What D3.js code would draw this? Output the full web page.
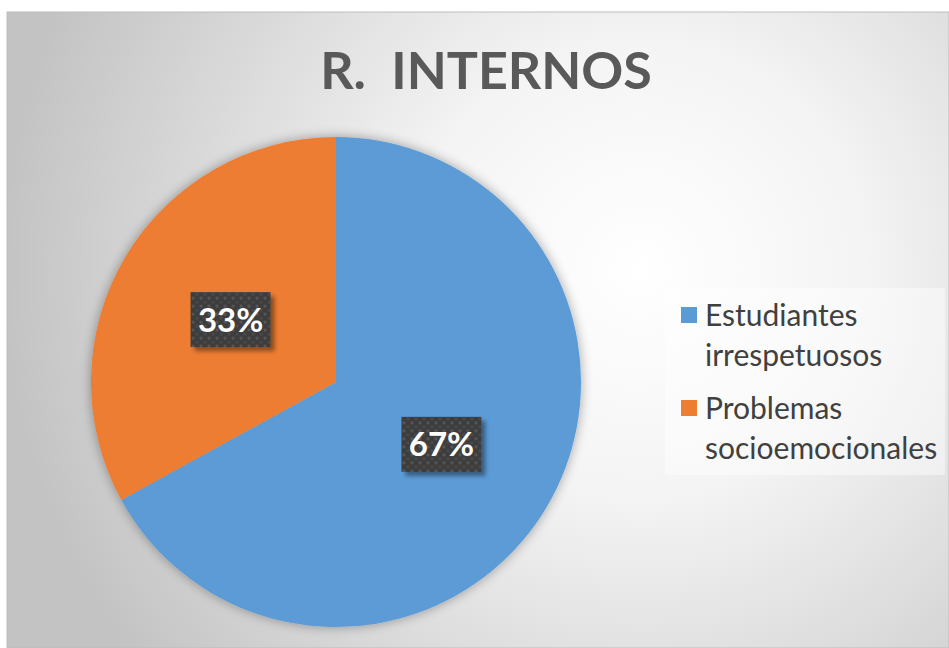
<!DOCTYPE html>
<html>
<head>
<meta charset="utf-8">
<script src="https://cdn.jsdelivr.net/npm/d3@7"></script>
<style>
  body { margin: 0; background: #fff; }
  svg { display: block; }
</style>
</head>
<body>
<svg id="chart" width="949" height="648"></svg>
<script>
// chart data
const title = "R.  INTERNOS";
const categories = ["Estudiantes irrespetuosos", "Problemas socioemocionales"];
const legendLines = [["Estudiantes", "irrespetuosos"], ["Problemas", "socioemocionales"]];
const values = [67, 33];
const colors = ["#5b9bd5", "#ed7d31"];

const W = 949, H = 648;
const svg = d3.select("#chart");
const defs = svg.append("defs");

// background: radial gradient like the office theme
const bg = defs.append("radialGradient")
  .attr("id", "bg")
  .attr("gradientUnits", "userSpaceOnUse")
  .attr("cx", 640).attr("cy", 270).attr("r", 640);
bg.append("stop").attr("offset", "0%").attr("stop-color", "#ffffff");
bg.append("stop").attr("offset", "35%").attr("stop-color", "#f4f4f4");
bg.append("stop").attr("offset", "100%").attr("stop-color", "#c3c3c3");

const shadow = defs.append("filter").attr("id", "shadow")
  .attr("x", "-20%").attr("y", "-20%").attr("width", "140%").attr("height", "140%");
shadow.append("feGaussianBlur").attr("in", "SourceAlpha").attr("stdDeviation", 6);
shadow.append("feOffset").attr("dx", 0).attr("dy", 0).attr("result", "blur");
shadow.append("feComponentTransfer").append("feFuncA").attr("type", "linear").attr("slope", 0.35);
const m = shadow.append("feMerge");
m.append("feMergeNode");
m.append("feMergeNode").attr("in", "SourceGraphic");

const boxShadow = defs.append("filter").attr("id", "boxShadow")
  .attr("x", "-20%").attr("y", "-20%").attr("width", "150%").attr("height", "150%");
boxShadow.append("feGaussianBlur").attr("in", "SourceAlpha").attr("stdDeviation", 2);
boxShadow.append("feOffset").attr("dx", 4).attr("dy", 4);
boxShadow.append("feComponentTransfer").append("feFuncA").attr("type", "linear").attr("slope", 0.4);
const m2 = boxShadow.append("feMerge");
m2.append("feMergeNode");
m2.append("feMergeNode").attr("in", "SourceGraphic");

// dotted pattern for the data labels
const pat = defs.append("pattern").attr("id", "dots")
  .attr("patternUnits", "userSpaceOnUse").attr("width", 8).attr("height", 8);
pat.append("rect").attr("width", 8).attr("height", 8).attr("fill", "#3c3c3c");
pat.append("rect").attr("x", 1).attr("y", 1).attr("width", 3).attr("height", 3).attr("fill", "#555");
pat.append("rect").attr("x", 5).attr("y", 5).attr("width", 3).attr("height", 3).attr("fill", "#4a4a4a");

svg.append("rect").attr("x", 7).attr("y", 12).attr("width", W - 7).attr("height", H - 12)
  .attr("fill", "url(#bg)").attr("stroke", "#bdbdbd").attr("stroke-width", 1);

svg.append("text")
  .attr("x", 486).attr("y", 89)
  .attr("text-anchor", "middle")
  .attr("font-family", "Lato, 'Open Sans', sans-serif")
  .attr("font-weight", "bold")
  .attr("font-size", 52)
  .attr("fill", "#595959")
  .style("white-space", "pre")
  .text(title);

// pie
const cx = 336, cy = 382, r = 245;
const pie = d3.pie().sort(null).value(d => d);
const arcs = pie(values);
const arc = d3.arc().innerRadius(0).outerRadius(r);

const g = svg.append("g").attr("transform", `translate(${cx},${cy})`);
g.append("g").attr("filter", "url(#shadow)")
  .selectAll("path")
  .data(arcs)
  .enter()
  .append("path")
  .attr("d", arc)
  .attr("fill", (d, i) => colors[i]);

// data labels
const total = d3.sum(values);
const labelArc = d3.arc().innerRadius(r * 0.5).outerRadius(r * 0.5);
const bw = 80, bh = 55;
const lbl = g.selectAll(".lbl")
  .data(arcs)
  .enter()
  .append("g")
  .attr("class", "lbl")
  .attr("transform", d => {
    const [x, y] = labelArc.centroid(d);
    return `translate(${x},${y})`;
  });
lbl.append("rect")
  .attr("x", -bw / 2).attr("y", -bh / 2)
  .attr("width", bw).attr("height", bh)
  .attr("fill", "url(#dots)")
  .attr("filter", "url(#boxShadow)");
lbl.append("text")
  .attr("text-anchor", "middle")
  .attr("dy", "0.36em")
  .attr("font-family", "Lato, 'Open Sans', sans-serif")
  .attr("font-weight", "bold")
  .attr("font-size", 33)
  .attr("fill", "#ffffff")
  .text(d => Math.round(d.data / total * 100) + "%");

// legend
const leg = svg.append("g").attr("transform", "translate(665,288)");
leg.append("rect").attr("width", 280).attr("height", 187)
  .attr("fill", "#ffffff").attr("fill-opacity", 0.45);
const item = leg.selectAll(".item")
  .data(categories)
  .enter()
  .append("g")
  .attr("class", "item")
  .attr("transform", (d, i) => `translate(0,${i * 93})`);
item.append("rect")
  .attr("x", 16).attr("y", 19)
  .attr("width", 16).attr("height", 16)
  .attr("fill", (d, i) => colors[i]);
item.append("text")
  .attr("font-family", "Lato, 'Open Sans', sans-serif")
  .attr("font-size", 30)
  .attr("fill", "#404040")
  .selectAll("tspan")
  .data((d, i) => legendLines[i])
  .enter()
  .append("tspan")
  .attr("x", 40)
  .attr("y", (d, j) => 38 + j * 40)
  .text(d => d);
</script>
</body>
</html>
